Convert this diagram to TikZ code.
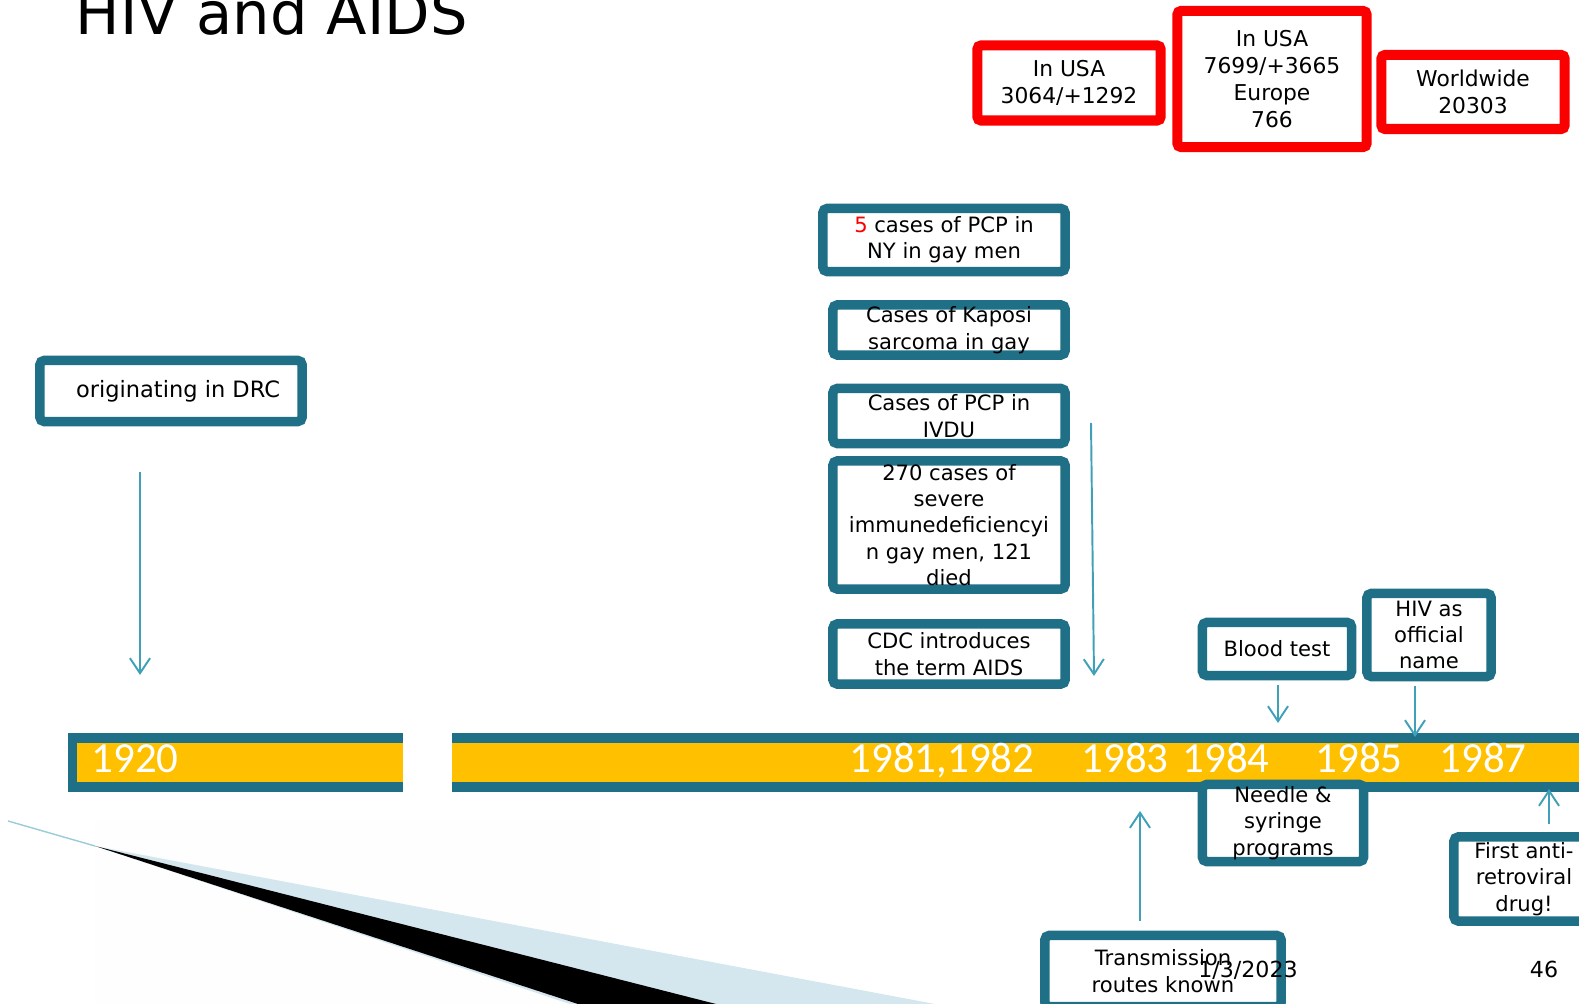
\documentclass[tikz,border=0pt]{standalone}
\usepackage{fontspec}
\setmainfont{DejaVu Sans}
\newfontfamily\yearfont{Carlito}
\usetikzlibrary{arrows.meta}
\definecolor{boxteal}{RGB}{31,112,135}
\definecolor{arrteal}{RGB}{64,160,184}
\definecolor{baryellow}{RGB}{255,192,0}
\definecolor{swoosh}{RGB}{213,231,238}
\definecolor{alarm}{RGB}{250,0,0}
\begin{document}
\begin{tikzpicture}[x=0.01cm,y=-0.01cm,
  tbox/.style={draw=boxteal,line width=2.7pt,rounded corners=1.2pt,fill=white,align=center,inner xsep=0pt,inner ysep=-20pt,font=\fontsize{6}{7.5}\selectfont},
  rbox/.style={draw=alarm,line width=2.85pt,rounded corners=1pt,fill=white,align=center,inner xsep=0pt,inner ysep=-20pt,font=\fontsize{6.2}{7.6}\selectfont},
  yr/.style={text=white,anchor=base,inner sep=0pt,font=\yearfont\fontsize{12.2}{14}\selectfont},
  arr/.style={draw=arrteal,line width=.55pt,-{Straight Barb[length=4.3pt,width=5.7pt]}}]
\useasboundingbox (0,0) rectangle (1579,1004);
\clip (0,0) rectangle (1579,1004);
% corner swoosh
\fill[white!97!swoosh] (95,820) rectangle (600,1004);
\fill[swoosh] (95,846) -- (935,1004) -- (570,1004) -- cycle;
\fill[black] (95,846) -- (716,1004) -- (578,1004) -- cycle;
\draw[swoosh!60!arrteal,line width=.4pt] (8,821) -- (95,846);
% title
\node[anchor=base west,inner sep=0pt,font=\fontsize{16.8}{20}\selectfont](title)at(75,35){HIV and AIDS};
% time bar
\fill[boxteal] (68,733) rectangle (403,792);\fill[baryellow] (77,743) rectangle (403,782);
\fill[boxteal] (452,733) rectangle (1600,792);\fill[baryellow] (452,743) rectangle (1600,782);
\node[yr](y1920)at(135,773){1920};
\node[yr](y1981)at(942,773){1981,1982};
\node[yr](y1983)at(1125,773){1983};
\node[yr](y1984)at(1226,773){1984};
\node[yr](y1985)at(1359,773){1985};
\node[yr](y1987)at(1483,773){1987};
% case counts
\node[rbox,minimum width=1.83cm,minimum height=.75cm](usa1)at(1069,83){In USA\\3064/+1292};
\node[rbox,minimum width=1.89cm,minimum height=1.36cm](usa2)at(1272,79){In USA\\7699/+3665\\Europe\\766};
\node[rbox,minimum width=1.83cm,minimum height=.74cm](world)at(1473,92){Worldwide\\20303};
% events
\node[tbox,minimum width=2.62cm,minimum height=.61cm,font=\fontsize{6.4}{7.5}\selectfont](drc)at(171,391){\hspace*{4pt}originating in DRC};
\node[tbox,minimum width=2.42cm,minimum height=.63cm](pcp)at(944,240){{\color{alarm}5} cases of PCP in\\NY in gay men};
\node[tbox,minimum width=2.32cm,minimum height=.50cm](kaposi)at(949,330){Cases of Kaposi\\sarcoma in gay};
\node[tbox,minimum width=2.32cm,minimum height=.55cm](ivdu)at(949,416){Cases of PCP in\\IVDU};
\node[tbox,minimum width=2.32cm,minimum height=1.28cm](immun)at(949,525){270 cases of\\severe\\immunedeficiencyi\\n gay men, 121\\died};
\node[tbox,minimum width=2.32cm,minimum height=.60cm](cdc)at(949,654){CDC introduces\\the term AIDS};
\node[tbox,minimum width=1.49cm,minimum height=.53cm](blood)at(1277,649){Blood test};
\node[tbox,minimum width=1.24cm,minimum height=.83cm](hiv)at(1429,635){HIV as\\official\\name};
\node[tbox,minimum width=1.61cm,minimum height=.77cm](needle)at(1283,823){Needle \&\\syringe\\programs};
\node[tbox,minimum width=2.36cm,minimum height=.71cm](trans)at(1163,971){Transmission\\routes known};
\node[tbox,minimum width=1.40cm,minimum height=.84cm](arv)at(1524,879){First anti-\\retroviral\\drug!};
% pointers
\coordinate(tDRC)at(140,675);\coordinate(gTop)at(1091,423);\coordinate(tGrp)at(1094,676);
\coordinate(tBlood)at(1278,723);\coordinate(tHIV)at(1415,737);
\coordinate(tTrans)at(1140,811);\coordinate(tARV)at(1549,789);
\draw[arr,shorten <=.46cm](drc.south -| tDRC)--(tDRC);
\draw[arr](gTop)--(tGrp);
\draw[arr,shorten <=.05cm](blood.south -| tBlood)--(tBlood);
\draw[arr,shorten <=.05cm](hiv.south -| tHIV)--(tHIV);
\draw[arr,shorten <=.1cm](trans.north -| tTrans)--(tTrans);
\draw[arr,shorten <=.08cm](arv.north -| tARV)--(tARV);
% footer
\node[anchor=base,inner sep=0pt,font=\fontsize{6.3}{7.5}\selectfont](date)at(1248,977){1/3/2023};
\node[anchor=base,inner sep=0pt,font=\fontsize{6.3}{7.5}\selectfont](page)at(1544,977){46};
\end{tikzpicture}
\end{document}
